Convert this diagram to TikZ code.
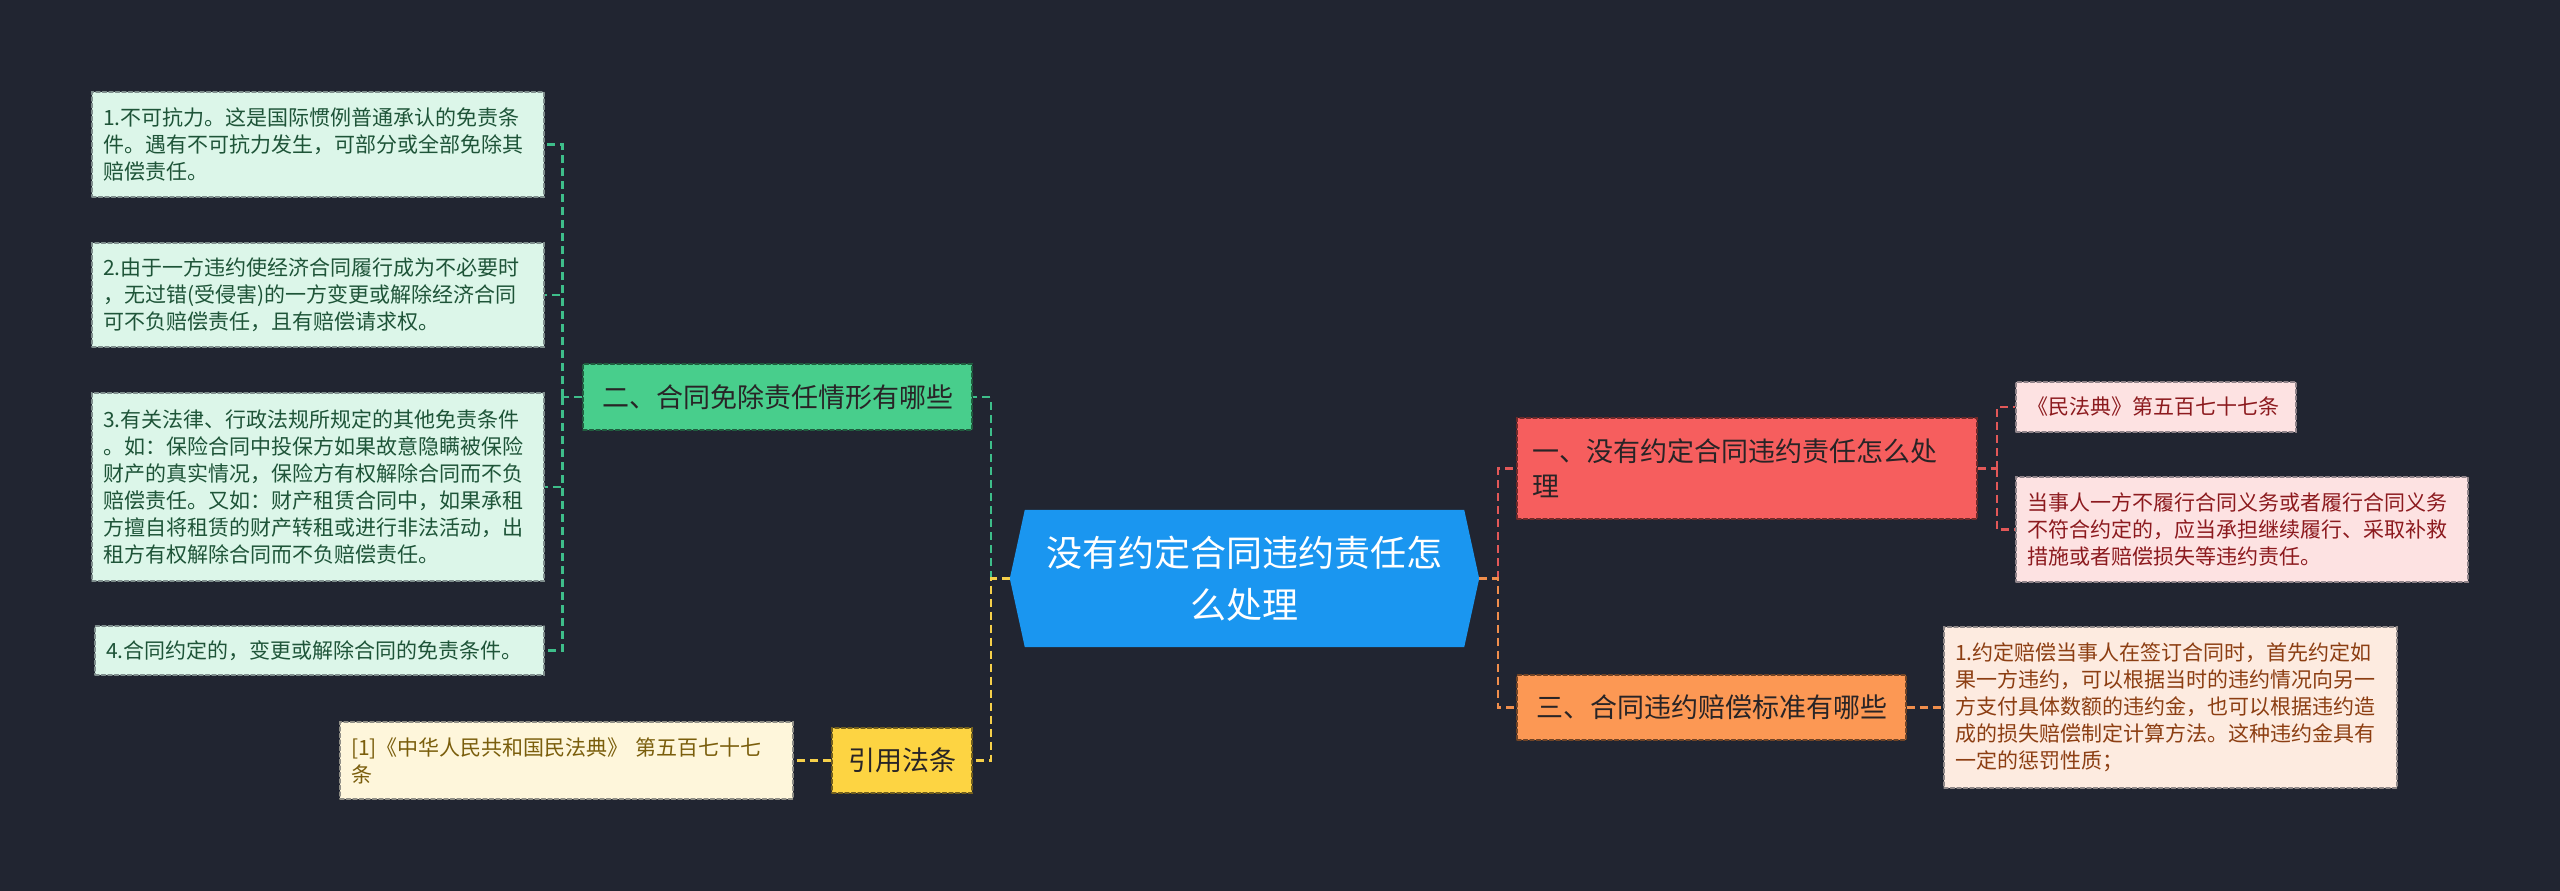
\documentclass[tikz,border=0pt]{standalone}
\usepackage{fontspec}
\setmainfont{Noto Sans CJK SC}
\usetikzlibrary{backgrounds}

\definecolor{bgdark}{RGB}{33,37,49}
\definecolor{rootblue}{RGB}{26,150,240}
\definecolor{gfill}{RGB}{72,206,140}
\definecolor{gleaffill}{RGB}{220,246,233}
\definecolor{gtext}{RGB}{30,84,56}
\definecolor{gline}{RGB}{62,190,138}
\definecolor{rfill}{RGB}{246,94,94}
\definecolor{rleaffill}{RGB}{253,226,226}
\definecolor{rtext}{RGB}{140,26,30}
\definecolor{rline}{RGB}{226,88,88}
\definecolor{ofill}{RGB}{252,152,84}
\definecolor{oleaffill}{RGB}{253,235,224}
\definecolor{otext}{RGB}{140,62,18}
\definecolor{oline}{RGB}{240,142,76}
\definecolor{yfill}{RGB}{253,212,66}
\definecolor{yleaffill}{RGB}{254,246,219}
\definecolor{ytext}{RGB}{122,94,12}
\definecolor{yline}{RGB}{246,208,74}
\definecolor{darktext}{RGB}{40,36,38}

\begin{document}
\begin{tikzpicture}[
						x=1pt, y=-1pt,
						line cap=round,
						box/.style={draw, line width=1.4pt, dash pattern=on 4pt off 2.5pt, inner ysep=0pt},
						leaf/.style={box, text width=430pt, align=left, inner xsep=11pt, font=\fontsize{21}{27}\selectfont},
						gleaf/.style={leaf, fill=gleaffill, draw=gleaffill!50!bgdark, text=gtext},
						rleaf/.style={leaf, fill=rleaffill, draw=rleaffill!50!bgdark, text=rtext},
						oleaf/.style={leaf, fill=oleaffill, draw=oleaffill!50!bgdark, text=otext},
						yleaf/.style={leaf, fill=yleaffill, draw=yleaffill!50!bgdark, text=ytext},
						branch/.style={box, inner xsep=15pt, align=left, text=darktext, font=\fontsize{27}{35}\selectfont},
						gbranch/.style={branch, fill=gfill, draw=gfill!45!black},
						rbranch/.style={branch, fill=rfill, draw=rfill!45!black},
						obranch/.style={branch, fill=ofill, draw=ofill!45!black},
						ybranch/.style={branch, fill=yfill, draw=yfill!45!black},
						rootbox/.style={minimum width=469pt, minimum height=137pt, align=center, text=white, font=\fontsize{36}{52}\selectfont},
						link/.style={line width=2.4pt, line cap=butt, dash pattern=on 8pt off 5pt},
						glink/.style={link, draw=gline},
						rlink/.style={link, draw=rline},
						olink/.style={link, draw=oline},
						ylink/.style={link, draw=yline}
						]
						
						\begin{scope}[on background layer]
						\fill[bgdark] (0,0) rectangle (2560,891);
						\end{scope}
						
						\node[rootbox] (root) at (1244.5,578.5) {没有约定合同违约责任怎\\么处理};
						
						\node[gbranch, minimum width=389pt, minimum height=66pt] (exempt) at (777.5,397) {二、合同免除责任情形有哪些};
						\node[ybranch, minimum width=140pt, minimum height=65pt] (law) at (902,760.5) {引用法条};
						\node[rbranch, text width=430pt, minimum height=101pt] (noagree) at (1747,468.5) {一、没有约定合同违约责任怎么处\\理};
						\node[obranch, minimum width=389pt, minimum height=65pt] (standard) at (1711.5,707.5) {三、合同违约赔偿标准有哪些};
						
						\node[gleaf, minimum height=105pt] (exempt1) at (318,144.5) {1.不可抗力。这是国际惯例普通承认的免责条\\件。遇有不可抗力发生，可部分或全部免除其\\赔偿责任。};
						\node[gleaf, minimum height=104pt] (exempt2) at (318,295) {2.由于一方违约使经济合同履行成为不必要时\\，无过错(受侵害)的一方变更或解除经济合同\\可不负赔偿责任，且有赔偿请求权。};
						\node[gleaf, minimum height=188pt] (exempt3) at (318,487) {3.有关法律、行政法规所规定的其他免责条件\\。如：保险合同中投保方如果故意隐瞒被保险\\财产的真实情况，保险方有权解除合同而不负\\赔偿责任。又如：财产租赁合同中，如果承租\\方擅自将租赁的财产转租或进行非法活动，出\\租方有权解除合同而不负赔偿责任。};
						\node[gleaf, text width=427pt, minimum height=49pt] (exempt4) at (319.5,650.5) {4.合同约定的，变更或解除合同的免责条件。};
						
						\node[yleaf, text width=431pt, minimum height=77pt] (lawref) at (566.5,760.5) {[1]《中华人民共和国民法典》 第五百七十七\\条};
						
						\node[rleaf, text width=258pt, minimum height=50pt] (noagree1) at (2156,407) {《民法典》第五百七十七条};
						\node[rleaf, minimum height=105pt] (noagree2) at (2242,529.5) {当事人一方不履行合同义务或者履行合同义务\\不符合约定的，应当承担继续履行、采取补救\\措施或者赔偿损失等违约责任。};
						
						\node[oleaf, text width=431pt, minimum height=161pt] (standard1) at (2170.5,707.5) {1.约定赔偿当事人在签订合同时，首先约定如\\果一方违约，可以根据当时的违约情况向另一\\方支付具体数额的违约金，也可以根据违约造\\成的损失赔偿制定计算方法。这种违约金具有\\一定的惩罚性质；};
						
						\begin{scope}[on background layer]
						\fill[rootblue] (root.west) -- ([xshift=15pt]root.north west) -- ([xshift=-15pt]root.north east) -- (root.east)
							-- ([xshift=-15pt]root.south east) -- ([xshift=15pt]root.south west) -- cycle;
						\end{scope}
						
						\coordinate (lfork) at ([xshift=-19pt]root.west);
						\coordinate (rfork) at ([xshift=19pt]root.east);
						
						\draw[glink] (lfork) |- (exempt.east);
						\draw[ylink] (root.west) -- (lfork) |- (law.east);
						\draw[rlink] (rfork) |- (noagree.west);
						\draw[olink] (root.east) -- (rfork) |- (standard.west);
						
						\draw[glink] (exempt.west) -- ++(-20,0) coordinate (efork);
						\foreach \n in {1,...,4}
							\draw[glink] (efork) |- (exempt\n.east);
						
						\draw[ylink] (law.west) -- (lawref.east);
						
						\draw[rlink] (noagree.east) -- ++(19,0) coordinate (nfork);
						\foreach \n in {1,2}
							\draw[rlink] (nfork) |- (noagree\n.west);
						
						\draw[olink] (standard.east) -- (standard1.west);
						
					\end{tikzpicture}
\end{document}
